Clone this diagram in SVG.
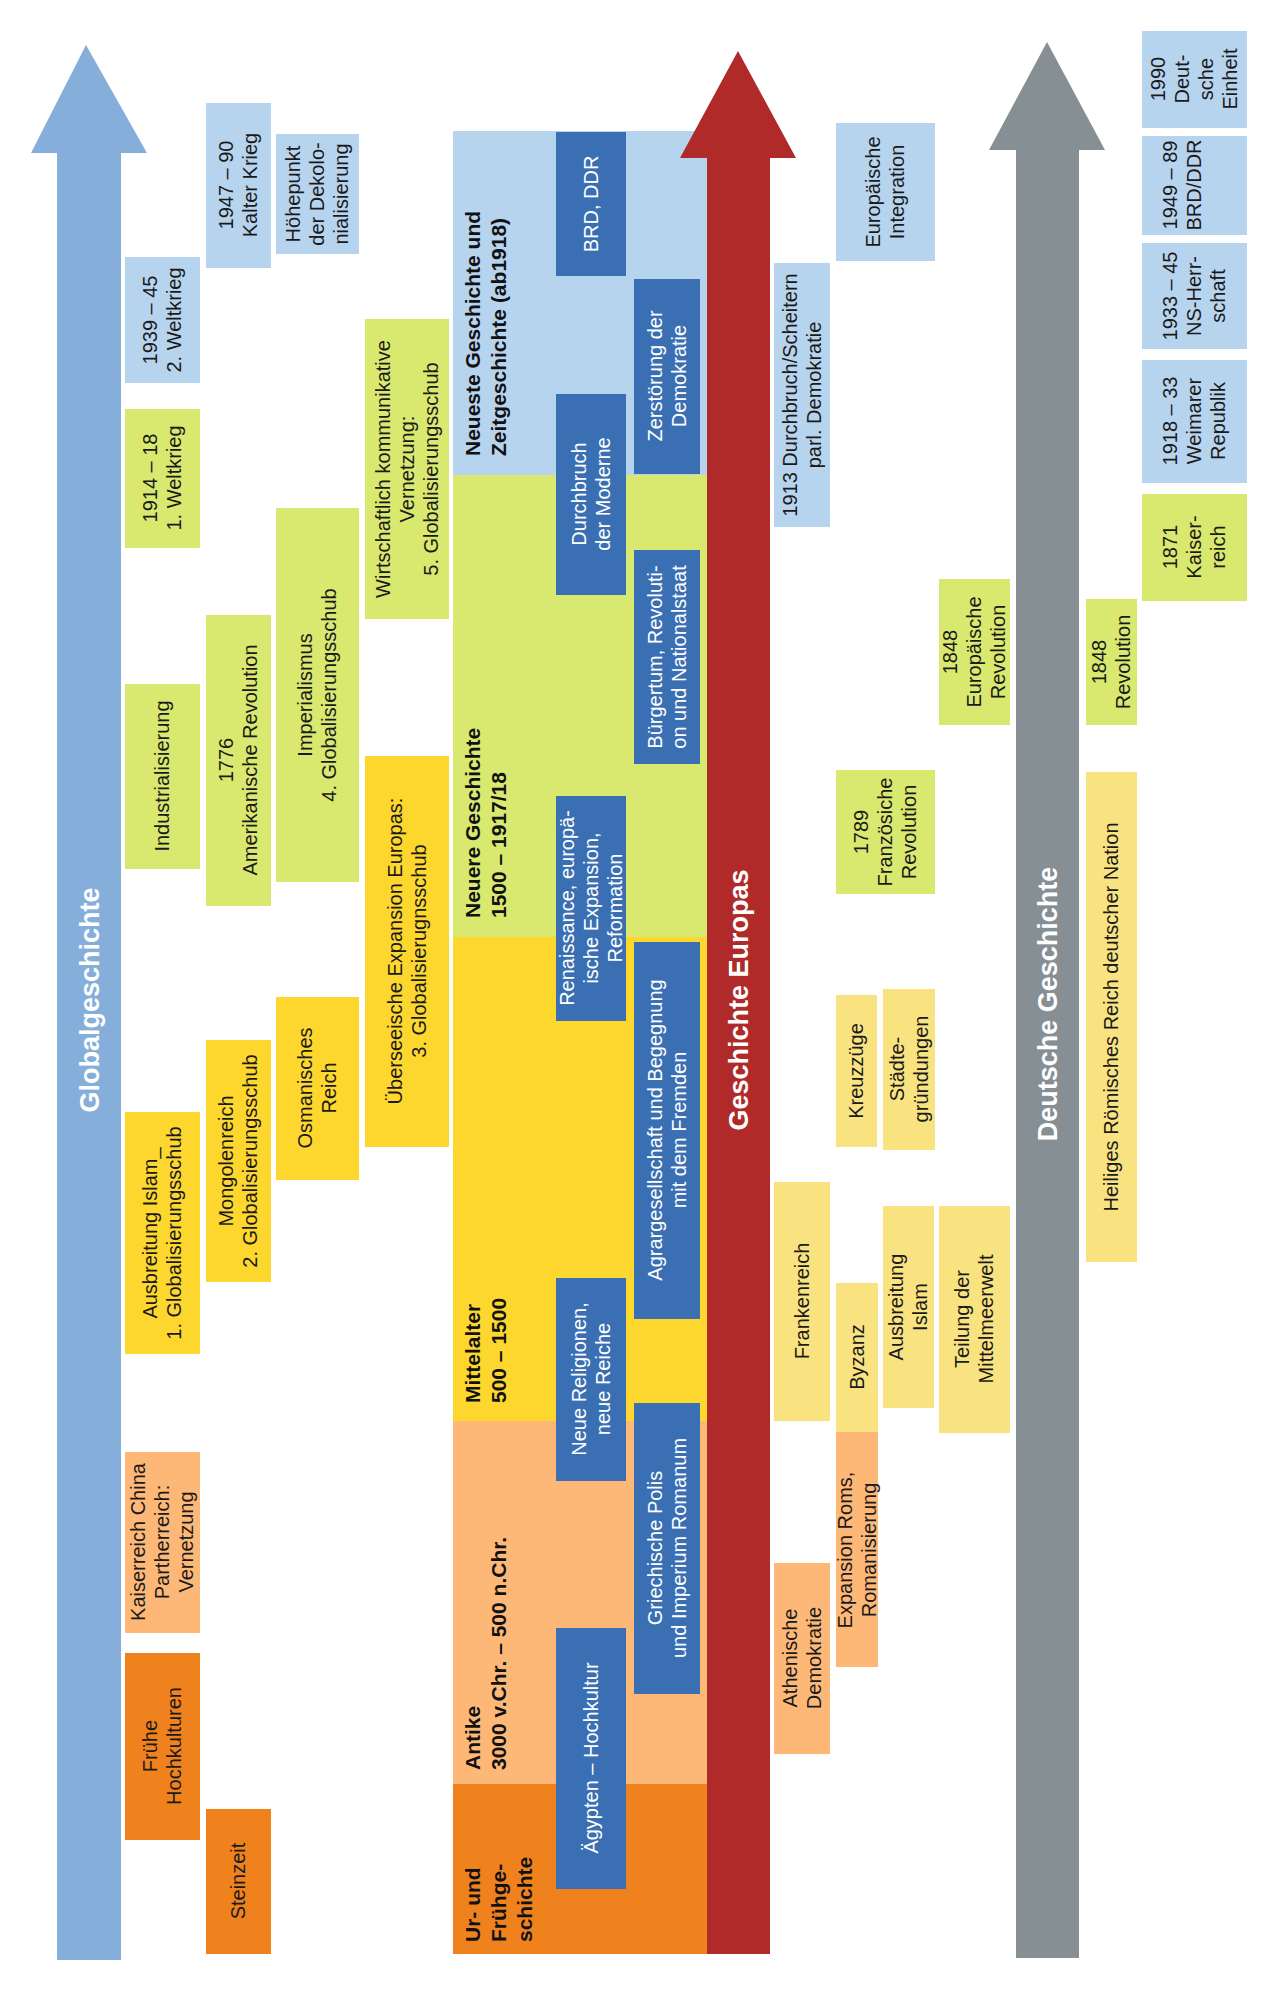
<svg xmlns="http://www.w3.org/2000/svg" width="1276" height="1992" viewBox="0 0 1276 1992">
<style>
text{font-family:"Liberation Sans",Arial,sans-serif;font-size:20px;fill:#1a1a1a}
.w{fill:#fff}
.h{font-weight:bold;font-size:21px;fill:#111}
.a{font-weight:bold;font-size:27px;fill:#fff}
.lb{fill:#b7d4ee}.gr{fill:#d9e86f}.ye{fill:#fdd72e}.pe{fill:#fdb878}.or{fill:#f0821e}.py{fill:#f9e380}.db{fill:#3a6fb3}
</style>
<rect width="1276" height="1992" fill="#fff"/>
<g id="bands">
<rect class="lb" x="453" y="131" width="254" height="344"/>
<rect class="gr" x="453" y="475" width="254" height="462"/>
<rect class="ye" x="453" y="937" width="254" height="484"/>
<rect class="pe" x="453" y="1421" width="254" height="363"/>
<rect class="or" x="453" y="1784" width="254" height="170"/>
<text class="h" transform="translate(460,456) rotate(-90)"><tspan x="0" y="20">Neueste Geschichte und</tspan><tspan x="0" y="46">Zeitgeschichte (ab1918)</tspan></text>
<text class="h" transform="translate(460,918) rotate(-90)"><tspan x="0" y="20">Neuere Geschichte</tspan><tspan x="0" y="46">1500 – 1917/18</tspan></text>
<text class="h" transform="translate(460,1403) rotate(-90)"><tspan x="0" y="20">Mittelalter</tspan><tspan x="0" y="46">500 – 1500</tspan></text>
<text class="h" transform="translate(460,1770) rotate(-90)"><tspan x="0" y="20">Antike</tspan><tspan x="0" y="46">3000 v.Chr. – 500 n.Chr.</tspan></text>
<text class="h" transform="translate(460,1942) rotate(-90)"><tspan x="0" y="20">Ur- und</tspan><tspan x="0" y="46">Frühge-</tspan><tspan x="0" y="72">schichte</tspan></text>
</g>
<g id="arrows">
<polygon fill="#86aedb" points="86,45 147,153 121,153 121,1960 57,1960 57,153 31,153"/>
<text class="a" text-anchor="middle" transform="translate(89,1000) rotate(-90)" y="10">Globalgeschichte</text>
<polygon fill="#b02a2a" points="738,51 796,158 770,158 770,1954 707,1954 707,158 680,158"/>
<text class="a" text-anchor="middle" transform="translate(738,1000) rotate(-90)" y="10">Geschichte Europas</text>
<polygon fill="#858f94" points="1047,42 1105,150 1079,150 1079,1958 1016,1958 1016,150 989,150"/>
<text class="a" text-anchor="middle" transform="translate(1047,1004) rotate(-90)" y="10">Deutsche Geschichte</text>
</g>
<g id="n1"><rect class="lb" x="125" y="257" width="75" height="126"/><text text-anchor="middle" transform="translate(162,320) rotate(-90)"><tspan x="0" y="-5">1939 – 45</tspan><tspan x="0" y="19">2. Weltkrieg</tspan></text></g>
<g id="n2"><rect class="gr" x="125" y="409" width="75" height="139"/><text text-anchor="middle" transform="translate(162,478) rotate(-90)"><tspan x="0" y="-5">1914 – 18</tspan><tspan x="0" y="19">1. Weltkrieg</tspan></text></g>
<g id="n3"><rect class="gr" x="125" y="684" width="75" height="185"/><text text-anchor="middle" transform="translate(162,776) rotate(-90)"><tspan x="0" y="7">Industrialisierung</tspan></text></g>
<g id="n4"><rect class="ye" x="125" y="1112" width="75" height="242"/><text text-anchor="middle" transform="translate(162,1233) rotate(-90)"><tspan x="0" y="-5">Ausbreitung Islam_</tspan><tspan x="0" y="19">1. Globalisierungsschub</tspan></text></g>
<g id="n5"><rect class="pe" x="125" y="1452" width="75" height="181"/><text text-anchor="middle" transform="translate(162,1542) rotate(-90)"><tspan x="0" y="-17">Kaiserreich China</tspan><tspan x="0" y="7">Partherreich:</tspan><tspan x="0" y="31">Vernetzung</tspan></text></g>
<g id="n6"><rect class="or" x="125" y="1653" width="75" height="187"/><text text-anchor="middle" transform="translate(162,1746) rotate(-90)"><tspan x="0" y="-5">Frühe</tspan><tspan x="0" y="19">Hochkulturen</tspan></text></g>
<g id="n7"><rect class="lb" x="206" y="103" width="65" height="165"/><text text-anchor="middle" transform="translate(238,185) rotate(-90)"><tspan x="0" y="-5">1947 – 90</tspan><tspan x="0" y="19">Kalter Krieg</tspan></text></g>
<g id="n8"><rect class="gr" x="206" y="615" width="65" height="291"/><text text-anchor="middle" transform="translate(238,760) rotate(-90)"><tspan x="0" y="-5">1776</tspan><tspan x="0" y="19">Amerikanische Revolution</tspan></text></g>
<g id="n9"><rect class="ye" x="206" y="1040" width="65" height="242"/><text text-anchor="middle" transform="translate(238,1161) rotate(-90)"><tspan x="0" y="-5">Mongolenreich</tspan><tspan x="0" y="19">2. Globalisierungsschub</tspan></text></g>
<g id="n10"><rect class="or" x="206" y="1809" width="65" height="145"/><text text-anchor="middle" transform="translate(238,1881) rotate(-90)"><tspan x="0" y="7">Steinzeit</tspan></text></g>
<g id="n11"><rect class="lb" x="276" y="134" width="83" height="120"/><text text-anchor="middle" transform="translate(317,194) rotate(-90)"><tspan x="0" y="-17">Höhepunkt</tspan><tspan x="0" y="7">der Dekolo-</tspan><tspan x="0" y="31">nialisierung</tspan></text></g>
<g id="n12"><rect class="gr" x="276" y="508" width="83" height="374"/><text text-anchor="middle" transform="translate(317,695) rotate(-90)"><tspan x="0" y="-5">Imperialismus</tspan><tspan x="0" y="19">4. Globalisierungsschub</tspan></text></g>
<g id="n13"><rect class="ye" x="276" y="997" width="83" height="183"/><text text-anchor="middle" transform="translate(317,1088) rotate(-90)"><tspan x="0" y="-5">Osmanisches</tspan><tspan x="0" y="19">Reich</tspan></text></g>
<g id="n14"><rect class="gr" x="365" y="319" width="84" height="300"/><text text-anchor="middle" transform="translate(407,469) rotate(-90)"><tspan x="0" y="-17">Wirtschaftlich kommunikative</tspan><tspan x="0" y="7">Vernetzung:</tspan><tspan x="0" y="31">5. Globalisierungsschub</tspan></text></g>
<g id="n15"><rect class="ye" x="365" y="756" width="84" height="391"/><text text-anchor="middle" transform="translate(407,951) rotate(-90)"><tspan x="0" y="-5">Überseeische Expansion Europas:</tspan><tspan x="0" y="19">3. Globalisierugnsschub</tspan></text></g>
<g id="n16"><rect class="db" x="556" y="132" width="70" height="144"/><text class="w" text-anchor="middle" transform="translate(591,204) rotate(-90)"><tspan x="0" y="7">BRD, DDR</tspan></text></g>
<g id="n17"><rect class="db" x="556" y="394" width="70" height="201"/><text class="w" text-anchor="middle" transform="translate(591,494) rotate(-90)"><tspan x="0" y="-5">Durchbruch</tspan><tspan x="0" y="19">der Moderne</tspan></text></g>
<g id="n18"><rect class="db" x="556" y="796" width="70" height="225"/><text class="w" text-anchor="middle" transform="translate(591,908) rotate(-90)"><tspan x="0" y="-17">Renaissance, europä-</tspan><tspan x="0" y="7">ische Expansion,</tspan><tspan x="0" y="31">Reformation</tspan></text></g>
<g id="n19"><rect class="db" x="556" y="1278" width="70" height="203"/><text class="w" text-anchor="middle" transform="translate(591,1379) rotate(-90)"><tspan x="0" y="-5">Neue Religionen,</tspan><tspan x="0" y="19">neue Reiche</tspan></text></g>
<g id="n20"><rect class="db" x="556" y="1628" width="70" height="261"/><text class="w" text-anchor="middle" transform="translate(591,1758) rotate(-90)"><tspan x="0" y="7">Ägypten – Hochkultur</tspan></text></g>
<g id="n21"><rect class="db" x="634" y="279" width="66" height="195"/><text class="w" text-anchor="middle" transform="translate(667,376) rotate(-90)"><tspan x="0" y="-5">Zerstörung der</tspan><tspan x="0" y="19">Demokratie</tspan></text></g>
<g id="n22"><rect class="db" x="634" y="550" width="66" height="214"/><text class="w" text-anchor="middle" transform="translate(667,657) rotate(-90)"><tspan x="0" y="-5">Bürgertum, Revoluti-</tspan><tspan x="0" y="19">on und Nationalstaat</tspan></text></g>
<g id="n23"><rect class="db" x="634" y="942" width="66" height="377"/><text class="w" text-anchor="middle" transform="translate(667,1130) rotate(-90)"><tspan x="0" y="-5">Agrargesellschaft und Begegnung</tspan><tspan x="0" y="19">mit dem Fremden</tspan></text></g>
<g id="n24"><rect class="db" x="634" y="1403" width="66" height="291"/><text class="w" text-anchor="middle" transform="translate(667,1548) rotate(-90)"><tspan x="0" y="-5">Griechische Polis</tspan><tspan x="0" y="19">und Imperium Romanum</tspan></text></g>
<g id="n25"><rect class="lb" x="774" y="263" width="56" height="264"/><text text-anchor="middle" transform="translate(802,395) rotate(-90)"><tspan x="0" y="-5">1913 Durchbruch/Scheitern</tspan><tspan x="0" y="19">parl. Demokratie</tspan></text></g>
<g id="n26"><rect class="py" x="774" y="1182" width="56" height="239"/><text text-anchor="middle" transform="translate(802,1301) rotate(-90)"><tspan x="0" y="7">Frankenreich</tspan></text></g>
<g id="n27"><rect class="pe" x="774" y="1563" width="56" height="191"/><text text-anchor="middle" transform="translate(802,1658) rotate(-90)"><tspan x="0" y="-5">Athenische</tspan><tspan x="0" y="19">Demokratie</tspan></text></g>
<g id="n28"><rect class="lb" x="836" y="123" width="99" height="138"/><text text-anchor="middle" transform="translate(885,192) rotate(-90)"><tspan x="0" y="-5">Europäische</tspan><tspan x="0" y="19">Integration</tspan></text></g>
<g id="n29"><rect class="gr" x="836" y="770" width="99" height="124"/><text text-anchor="middle" transform="translate(885,832) rotate(-90)"><tspan x="0" y="-17">1789</tspan><tspan x="0" y="7">Französiche</tspan><tspan x="0" y="31">Revolution</tspan></text></g>
<g id="n30"><rect class="py" x="836" y="995" width="41" height="152"/><text text-anchor="middle" transform="translate(856,1071) rotate(-90)"><tspan x="0" y="7">Kreuzzüge</tspan></text></g>
<g id="n31"><rect class="py" x="883" y="989" width="52" height="161"/><text text-anchor="middle" transform="translate(909,1069) rotate(-90)"><tspan x="0" y="-5">Städte-</tspan><tspan x="0" y="19">gründungen</tspan></text></g>
<g id="n32"><rect class="py" x="836" y="1283" width="42" height="149"/><text text-anchor="middle" transform="translate(857,1357) rotate(-90)"><tspan x="0" y="7">Byzanz</tspan></text></g>
<g id="n33"><rect class="pe" x="836" y="1432" width="42" height="235"/><text text-anchor="middle" transform="translate(857,1550) rotate(-90)"><tspan x="0" y="-5">Expansion Roms,</tspan><tspan x="0" y="19">Romanisierung</tspan></text></g>
<g id="n34"><rect class="py" x="883" y="1206" width="51" height="202"/><text text-anchor="middle" transform="translate(908,1307) rotate(-90)"><tspan x="0" y="-5">Ausbreitung</tspan><tspan x="0" y="19">Islam</tspan></text></g>
<g id="n35"><rect class="gr" x="939" y="579" width="71" height="146"/><text text-anchor="middle" transform="translate(974,652) rotate(-90)"><tspan x="0" y="-17">1848</tspan><tspan x="0" y="7">Europäische</tspan><tspan x="0" y="31">Revolution</tspan></text></g>
<g id="n36"><rect class="py" x="939" y="1206" width="71" height="227"/><text text-anchor="middle" transform="translate(974,1319) rotate(-90)"><tspan x="0" y="-5">Teilung der</tspan><tspan x="0" y="19">Mittelmeerwelt</tspan></text></g>
<g id="n37"><rect class="gr" x="1086" y="599" width="51" height="126"/><text text-anchor="middle" transform="translate(1111,662) rotate(-90)"><tspan x="0" y="-5">1848</tspan><tspan x="0" y="19">Revolution</tspan></text></g>
<g id="n38"><rect class="py" x="1086" y="772" width="51" height="490"/><text text-anchor="middle" transform="translate(1111,1017) rotate(-90)"><tspan x="0" y="7">Heiliges Römisches Reich deutscher Nation</tspan></text></g>
<g id="n39"><rect class="lb" x="1142" y="31" width="105" height="97"/><text text-anchor="middle" transform="translate(1194,79) rotate(-90)"><tspan x="0" y="-29">1990</tspan><tspan x="0" y="-5">Deut-</tspan><tspan x="0" y="19">sche</tspan><tspan x="0" y="43">Einheit</tspan></text></g>
<g id="n40"><rect class="lb" x="1142" y="136" width="105" height="99"/><text text-anchor="middle" transform="translate(1194,185) rotate(-90)"><tspan x="0" y="-17">1949 – 89</tspan><tspan x="0" y="7">BRD/DDR</tspan></text></g>
<g id="n41"><rect class="lb" x="1142" y="243" width="105" height="106"/><text text-anchor="middle" transform="translate(1194,296) rotate(-90)"><tspan x="0" y="-17">1933 – 45</tspan><tspan x="0" y="7">NS-Herr-</tspan><tspan x="0" y="31">schaft</tspan></text></g>
<g id="n42"><rect class="lb" x="1142" y="360" width="105" height="123"/><text text-anchor="middle" transform="translate(1194,421) rotate(-90)"><tspan x="0" y="-17">1918 – 33</tspan><tspan x="0" y="7">Weimarer</tspan><tspan x="0" y="31">Republik</tspan></text></g>
<g id="n43"><rect class="gr" x="1142" y="494" width="105" height="107"/><text text-anchor="middle" transform="translate(1194,547) rotate(-90)"><tspan x="0" y="-17">1871</tspan><tspan x="0" y="7">Kaiser-</tspan><tspan x="0" y="31">reich</tspan></text></g>
<g id="connectors"></g>
</svg>
